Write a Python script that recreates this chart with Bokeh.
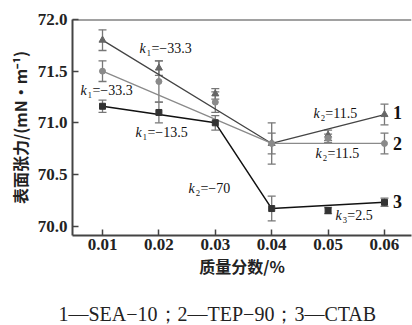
from bokeh.plotting import figure
from bokeh.models import Whisker, ColumnDataSource, Span, FixedTicker, Range1d, NumeralTickFormatter, Title
from bokeh.core.properties import value
from bokeh.embed import file_html
from bokeh.resources import INLINE

# ---- data ----
conc = [0.01, 0.02, 0.03, 0.04, 0.05, 0.06]
sea10 = [71.80, 71.53, 71.28, 70.80, 70.88, 71.08]
sea10_err = [0.10, 0.07, 0.05, 0.20, 0.05, 0.10]
tep90 = [71.50, 71.40, 71.20, 70.80, 70.85, 70.80]
tep90_err = [0.10, 0.20, 0.10, 0.10, 0.04, 0.10]
ctab = [71.16, 71.10, 71.00, 70.17, 70.15, 70.23]
ctab_err = [0.06, 0.10, 0.07, 0.12, 0.03, 0.04]

# fitted segments
fit1_x = [0.01, 0.04, 0.06]
fit1_y = [71.80, 70.80, 71.08]
fit2_x = [0.01, 0.04, 0.06]
fit2_y = [71.50, 70.80, 70.80]
fit3_x = [0.01, 0.03, 0.04, 0.06]
fit3_y = [71.16, 71.00, 70.17, 70.23]

# slope annotations
k_sub = ["₁=−33.3", "₁=−33.3", "₁=−13.5", "₂=−70", "₂=11.5", "₂=11.5", "₃=2.5"]
k_x = [0.01656, 0.0061, 0.01585, 0.02525, 0.0474, 0.04777, 0.0513]
k_y = [71.72, 71.31, 70.91, 70.36, 71.09, 70.70, 70.10]

series_names = ["1", "2", "3"]
series_lab_x = [0.0615, 0.0615, 0.0615]
series_lab_y = [71.10, 70.80, 70.235]

x_ticks = conc
y_ticks = [70.0, 70.5, 71.0, 71.5, 72.0]
caption = "1—SEA−10；2—TEP−90；3—CTAB"

serif = "Liberation Serif"
cjk = "Noto Sans CJK SC"

p = figure(width=412, height=325, output_backend="svg", toolbar_location=None,
           x_range=Range1d(0.00468, 0.06479), y_range=Range1d(69.909, 72.0),
           min_border_left=72, min_border_top=19, min_border_right=1, min_border_bottom=0)
p.outline_line_color = None
p.grid.visible = False
p.background_fill_color = "white"

for ax in (p.xaxis[0], p.yaxis[0]):
    ax.axis_line_width = 2
    ax.axis_line_color = "#444444"
    ax.major_tick_in = 6
    ax.major_tick_out = 0
    ax.major_tick_line_width = 1.5
    ax.major_tick_line_color = "#444444"
    ax.minor_tick_line_color = None
    ax.major_label_text_font = serif
    ax.major_label_text_font_style = "bold"
    ax.major_label_text_font_size = "17px"
    ax.major_label_text_color = "#222222"
    ax.axis_label_text_font = cjk
    ax.axis_label_text_font_style = "bold"
    ax.axis_label_text_font_size = "16px"
    ax.axis_label_text_color = "#222222"

p.xaxis.ticker = FixedTicker(ticks=x_ticks)
p.xaxis.formatter = NumeralTickFormatter(format="0.00")
p.xaxis.major_label_standoff = 3
p.xaxis.axis_label = "质量分数/%"
p.xaxis.axis_label_standoff = 1

p.yaxis.ticker = FixedTicker(ticks=y_ticks)
p.yaxis.formatter = NumeralTickFormatter(format="0.0")
p.yaxis.major_label_standoff = 5
p.yaxis.axis_label = "表面张力/(mN·m⁻¹)"
p.yaxis.axis_label_standoff = 3

p.add_layout(Span(location=72.0, dimension="width", line_color="#444444", line_width=2))

# fitted lines
p.line(fit1_x, fit1_y, line_color="#444444", line_width=1.3)
p.line(fit2_x, fit2_y, line_color="#8a8a8a", line_width=1.3)
p.line(fit3_x, fit3_y, line_color="#111111", line_width=1.5)

# error bars
for ys, es in ((sea10, sea10_err), (tep90, tep90_err), (ctab, ctab_err)):
    src = ColumnDataSource(dict(x=conc, lo=[a - b for a, b in zip(ys, es)], hi=[a + b for a, b in zip(ys, es)]))
    w = Whisker(base="x", lower="lo", upper="hi", source=src, dimension="height",
                line_color="#777777", line_width=1.3)
    w.upper_head.size = 8
    w.lower_head.size = 8
    w.upper_head.line_color = "#777777"
    w.lower_head.line_color = "#777777"
    w.upper_head.line_width = 1.3
    w.lower_head.line_width = 1.3
    p.add_layout(w)

# markers
p.scatter(conc, sea10, marker="triangle", size=7, fill_color="#666666", line_color="#666666")
p.scatter(conc, tep90, marker="circle", size=6, fill_color="#8a8a8a", line_color="#8a8a8a")
p.scatter(conc, ctab, marker="square", size=6, fill_color="#333333", line_color="#333333")

# slope labels: italic k + subscript part
p.text(k_x, k_y, text=["k"] * len(k_x), text_font=value(serif), text_font_style="italic",
       text_font_size="14px", text_align="left", text_baseline="middle", text_color="#111111")
p.text(k_x, k_y, text=k_sub, text_font=value(serif), text_font_size="14px", x_offset=7,
       text_align="left", text_baseline="middle", text_color="#111111")

# series labels
p.text(series_lab_x, series_lab_y, text=series_names, text_font=value(serif), text_font_style="bold",
       text_font_size="18px", text_align="left", text_baseline="middle", text_color="#111111")

# spacer between axis and caption
p.add_layout(Title(text=" ", text_font_size="12px", standoff=4), "below")
p.add_layout(Title(text=caption, align="left", offset=-14, text_font=serif, text_font_size="20px",
                   text_font_style="normal", text_color="#222222", standoff=1), "below")

open("out.html", "w").write(file_html(p, INLINE))
